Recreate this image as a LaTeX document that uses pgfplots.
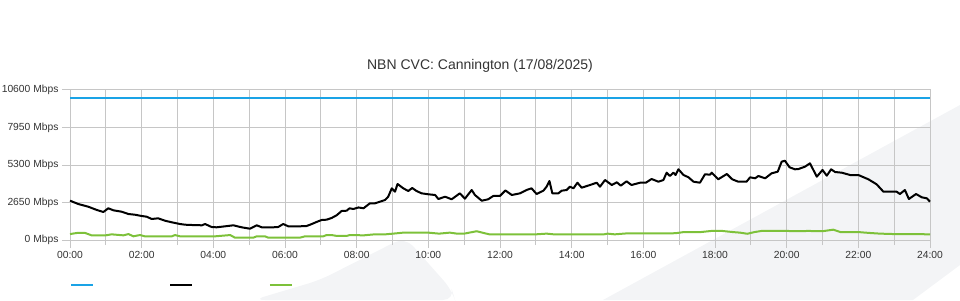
\documentclass[border=0pt]{standalone}
\usepackage{pgfplots}
\pgfplotsset{compat=1.18}
\usepackage{fontspec}
\setmainfont{Liberation Sans}
\definecolor{gridgray}{HTML}{C6C6C6}
\definecolor{labelgray}{HTML}{333333}
\definecolor{cvcblue}{HTML}{1AA3E6}
\definecolor{usegreen}{HTML}{7DC13A}
\definecolor{wmark}{HTML}{F3F4F6}
\begin{document}
\begin{tikzpicture}[x=1bp,y=1bp]
\useasboundingbox (0,0) rectangle (960,300);
\fill[wmark] (603,0) -- (960,195) -- (960,35) -- (913,0) -- cycle;
\fill[wmark, rounded corners=12bp] (253,0) -- (320,20) -- (405,63) -- (452,10) -- (455,0) -- cycle;
\begin{axis}[
  at={(70bp,60bp)}, anchor=south west,
  width=860bp, height=150bp, scale only axis,
  xmin=0, xmax=24, ymin=0, ymax=10600,
  scaled y ticks=false, scaled x ticks=false,
  xtick={0,2,...,24},
  xticklabels={00:00,02:00,04:00,06:00,08:00,10:00,12:00,14:00,16:00,18:00,20:00,22:00,24:00},
  minor xtick={1,3,...,23},
  ytick={0,2650,5300,7950,10600},
  yticklabels={0 Mbps,2650 Mbps,5300 Mbps,7950 Mbps,10600 Mbps},
  grid=both,
  major grid style={draw=gridgray, line width=1bp},
  minor grid style={draw=gridgray, line width=1bp},
  axis line style={draw=gridgray, line width=1bp},
  tick style={draw=gridgray, line width=1bp},
  tick align=outside, tick pos=left,
  major tick length=8bp, minor tick length=5bp,
  ticklabel style={font=\fontsize{10.3bp}{12bp}\selectfont, text=labelgray},
  title={NBN CVC: Cannington (17/08/2025)},
  title style={font=\fontsize{14bp}{16bp}\selectfont, text=labelgray, anchor=base, at={(0.4767,1)}, yshift=14.3bp, inner sep=0pt},
  legend style={at={(0,-0.3)}, anchor=west, draw=none, fill=none, legend columns=3, inner sep=0pt, outer sep=0pt, nodes={inner sep=0pt}, /tikz/every even column/.append style={column sep=74.5bp}},
  legend image code/.code={\draw[#1, line width=2bp] (0bp,0bp) -- (22bp,0bp);},
  clip=false,
]
\addplot[cvcblue, line width=2bp] coordinates {(0,10000) (24,10000)};
\addlegendentry{}
\addplot[black, line width=2bp, line join=round] coordinates {
(0.00,2780) (0.23,2544) (0.51,2353) (0.75,2120) (0.93,1979) (1.07,2240) (1.21,2099) (1.44,2000)
(1.63,1837) (1.81,1788) (2.00,1696) (2.14,1647) (2.28,1484) (2.46,1533) (2.65,1364) (2.84,1251)
(3.07,1131) (3.21,1081) (3.40,1060) (3.68,1039) (3.77,1131) (3.95,919) (4.09,897) (4.33,968)
(4.56,1039) (4.79,897) (5.02,799) (5.21,1039) (5.35,897) (5.67,897) (5.81,919) (5.95,1131)
(6.09,968) (6.42,968) (6.60,989) (6.70,1081) (6.88,1272) (7.02,1413) (7.16,1435) (7.30,1555)
(7.44,1745) (7.58,2049) (7.72,2070) (7.80,2240) (7.91,2191) (8.05,2300) (8.19,2240) (8.37,2593)
(8.51,2593) (8.65,2707) (8.79,2827) (8.88,3060) (8.98,3653) (9.07,3413) (9.14,3957) (9.30,3653)
(9.44,3463) (9.55,3675) (9.67,3463) (9.81,3300) (10.00,3230) (10.19,3180) (10.28,2897) (10.47,3060)
(10.65,2876) (10.88,3300) (11.02,2919) (11.21,3533) (11.30,3180) (11.49,2777) (11.67,2876) (11.81,3109)
(12.00,3120) (12.15,3500) (12.33,3180) (12.56,3300) (12.74,3533) (12.88,3653) (13.02,3251) (13.21,3484)
(13.30,3767) (13.38,4169) (13.46,3300) (13.63,3300) (13.72,3484) (13.86,3533) (13.95,3767) (14.05,3653)
(14.16,4049) (14.28,3696) (14.51,3887) (14.70,4049) (14.79,3767) (14.93,4240) (15.12,3887) (15.26,4078)
(15.37,3838) (15.53,4148) (15.67,3887) (15.91,4049) (16.07,4050) (16.23,4311) (16.42,4120) (16.56,4240)
(16.65,4756) (16.74,4523) (16.84,4756) (16.90,4593) (16.98,4996) (17.12,4593) (17.26,4431) (17.40,4120)
(17.58,4049) (17.72,4643) (17.86,4615) (17.91,4756) (18.09,4290) (18.33,4664) (18.48,4290) (18.65,4120)
(18.88,4120) (18.98,4431) (19.12,4360) (19.21,4523) (19.40,4360) (19.58,4713) (19.75,4827) (19.86,5533)
(19.95,5604) (20.08,5138) (20.23,4996) (20.33,5017) (20.51,5180) (20.65,5420) (20.84,4473) (21.00,4947)
(21.12,4544) (21.24,4996) (21.35,4805) (21.54,4756) (21.77,4593) (22.00,4593) (22.28,4290) (22.51,3936)
(22.70,3413) (22.88,3413) (23.07,3413) (23.16,3251) (23.30,3533) (23.41,2897) (23.61,3251) (23.77,3017)
(23.91,2947) (24.00,2707)
};
\addlegendentry{}
\addplot[usegreen, line width=2bp, line join=round] coordinates {
(0,420) (0.2,500) (0.42,500) (0.6,330) (1.0,330) (1.16,400) (1.49,330) (1.63,420) (1.77,260)
(1.95,350) (2.09,260) (2.84,260) (2.93,350) (3.07,260) (4.05,260) (4.47,350) (4.6,170) (5.12,170)
(5.21,260) (5.44,260) (5.53,170) (6.42,170) (6.56,260) (7.07,260) (7.16,350) (7.30,350) (7.44,290)
(7.72,290) (7.81,350) (8.2,330) (8.5,400) (8.8,400) (9.1,470) (9.3,520) (10.0,520) (10.3,450)
(10.6,520) (10.8,450) (11.0,450) (11.35,620) (11.7,400) (12.5,400) (13.0,400) (13.3,450) (13.5,400)
(14.2,400) (14.9,400) (15.0,450) (15.2,400) (15.5,460) (16.0,460) (16.5,460) (16.9,480) (17.1,550)
(17.6,560) (17.9,640) (18.2,640) (18.5,560) (18.7,520) (18.9,440) (19.1,560) (19.3,640) (20.0,640)
(20.3,620) (20.6,640) (21.0,620) (21.3,730) (21.5,560) (22.0,560) (22.3,500) (22.6,450) (23.0,420)
(23.5,420) (24,400)
};
\addlegendentry{}
\end{axis}
\end{tikzpicture}
\end{document}
